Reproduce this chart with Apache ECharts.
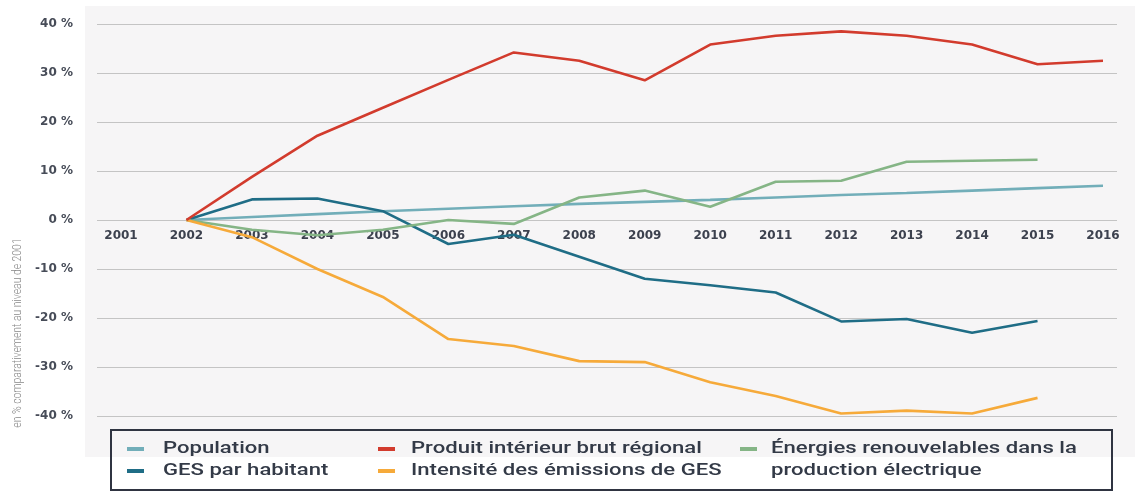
<!DOCTYPE html>
<html>
<head>
<meta charset="utf-8">
<script src="https://cdn.jsdelivr.net/npm/echarts@6/dist/echarts.min.js"></script>
<style>
html,body{margin:0;padding:0;background:#ffffff;}
#chart{width:1135px;height:494px;}
</style>
</head>
<body>
<div id="chart"></div>
<script>
const years = ['2001','2002','2003','2004','2005','2006','2007','2008','2009','2010','2011','2012','2013','2014','2015','2016'];
const yTicks = [-40, 40, 10]; // min, max, interval
const yAxisTitle = 'en % comparativement au niveau de 2001';

const population = [null, 0, 0.6, 1.2, 1.8, 2.3, 2.8, 3.3, 3.7, 4.1, 4.6, 5.1, 5.5, 6.0, 6.5, 7.0];
const gesParHabitant = [null, 0, 4.2, 4.4, 1.8, -4.9, -3.0, -7.5, -12.0, -13.3, -14.8, -20.7, -20.2, -23.0, -20.6, null];
const pib = [null, 0, 8.8, 17.2, 22.9, 28.6, 34.2, 32.5, 28.5, 35.8, 37.6, 38.5, 37.6, 35.8, 31.8, 32.5];
const intensite = [null, 0, -3.5, -10.0, -15.7, -24.3, -25.7, -28.8, -29.0, -33.1, -35.9, -39.5, -38.9, -39.5, -36.3, null];
const energies = [null, 0, -2.0, -3.1, -2.0, 0, -0.8, 4.6, 6.0, 2.7, 7.8, 8.0, 11.9, 12.1, 12.3, null];

const names = {
  pop: 'Population',
  ges: 'GES par habitant',
  pib: 'Produit intérieur brut régional',
  int: 'Intensité des émissions de GES',
  ene: 'Énergies renouvelables dans la production électrique'
};
const colors = {
  pop: '#72aeb9',
  ges: '#1f6d86',
  pib: '#d23b2d',
  int: '#f6aa3a',
  ene: '#85b586'
};
// legend layout: [key, column, row, text lines]
const legendItems = [
  ['pop', 0, 0, ['Population']],
  ['ges', 0, 1, ['GES par habitant']],
  ['pib', 1, 0, ['Produit intérieur brut régional']],
  ['int', 1, 1, ['Intensité des émissions de GES']],
  ['ene', 2, 0, ['Énergies renouvelables dans la', 'production électrique']]
];
const legendColX = [127, 378, 740];
const legendTextX = [163, 411, 771];
const legendRowY = [449, 471];

const chart = echarts.init(document.getElementById('chart'), null, {renderer: 'canvas'});

function mkSeries(key, data) {
  return {
    name: names[key], type: 'line', xAxisIndex: 1, yAxisIndex: 1,
    data: data, symbol: 'none', smooth: false,
    lineStyle: {color: colors[key], width: 2.6},
    itemStyle: {color: colors[key]},
    z: 3
  };
}

const graphics = [
  {type: 'rect', left: 85, top: 6, z: -10, shape: {width: 1050, height: 451}, style: {fill: '#f6f5f6'}},
  {type: 'rect', z: 10, shape: {x: 111, y: 430, width: 1001, height: 60}, style: {fill: 'none', stroke: '#2f3441', lineWidth: 2}},
  {type: 'text', z: 10, x: 18, y: 333, rotation: Math.PI / 2, scaleY: 1.3,
    style: {text: yAxisTitle, fill: '#888888', font: '300 10.4px Roboto', textAlign: 'center', textVerticalAlign: 'middle'}}
];
legendItems.forEach(([key, col, row, lines]) => {
  const x = legendColX[col];
  const y = legendRowY[row];
  graphics.push({type: 'rect', z: 10, shape: {x: x, y: y - 2, width: 17, height: 4}, style: {fill: colors[key]}});
  lines.forEach((t, i) => {
    graphics.push({type: 'text', z: 10, x: legendTextX[col], y: legendRowY[row + i], scaleX: 1.34,
      style: {text: t, fill: '#333a47', font: '500 16.5px Roboto', textAlign: 'left', textVerticalAlign: 'middle'}});
  });
});

chart.setOption({
  animation: false,
  backgroundColor: '#ffffff',
  graphic: graphics,
  grid: [
    {left: 97, right: 18, top: 24, bottom: 78},
    {left: 121, right: 32, top: 24, bottom: 78}
  ],
  xAxis: [
    {type: 'value', gridIndex: 0, show: false, min: 0, max: 1},
    {type: 'category', gridIndex: 1, data: years, boundaryGap: false, offset: -196,
      axisLine: {show: false, onZero: false},
      axisTick: {show: false},
      axisLabel: {interval: 0, margin: 10, color: '#3c414e', fontFamily: 'DejaVu Sans', fontWeight: 'bold', fontSize: 12}}
  ],
  yAxis: [
    {type: 'value', gridIndex: 0, min: yTicks[0], max: yTicks[1], interval: yTicks[2],
      axisLine: {show: false}, axisTick: {show: false},
      splitLine: {show: true, lineStyle: {color: '#c4c4c4', width: 1}},
      axisLabel: {margin: 24, color: '#474c58', fontFamily: 'DejaVu Sans', fontWeight: 'bold', fontSize: 12,
        formatter: v => v + ' %'}},
    {type: 'value', gridIndex: 1, min: yTicks[0], max: yTicks[1], interval: yTicks[2], show: false,
      splitLine: {show: false}}
  ],
  series: [
    mkSeries('pop', population),
    mkSeries('ges', gesParHabitant),
    mkSeries('ene', energies),
    mkSeries('int', intensite),
    mkSeries('pib', pib)
  ]
});
</script>
</body>
</html>
